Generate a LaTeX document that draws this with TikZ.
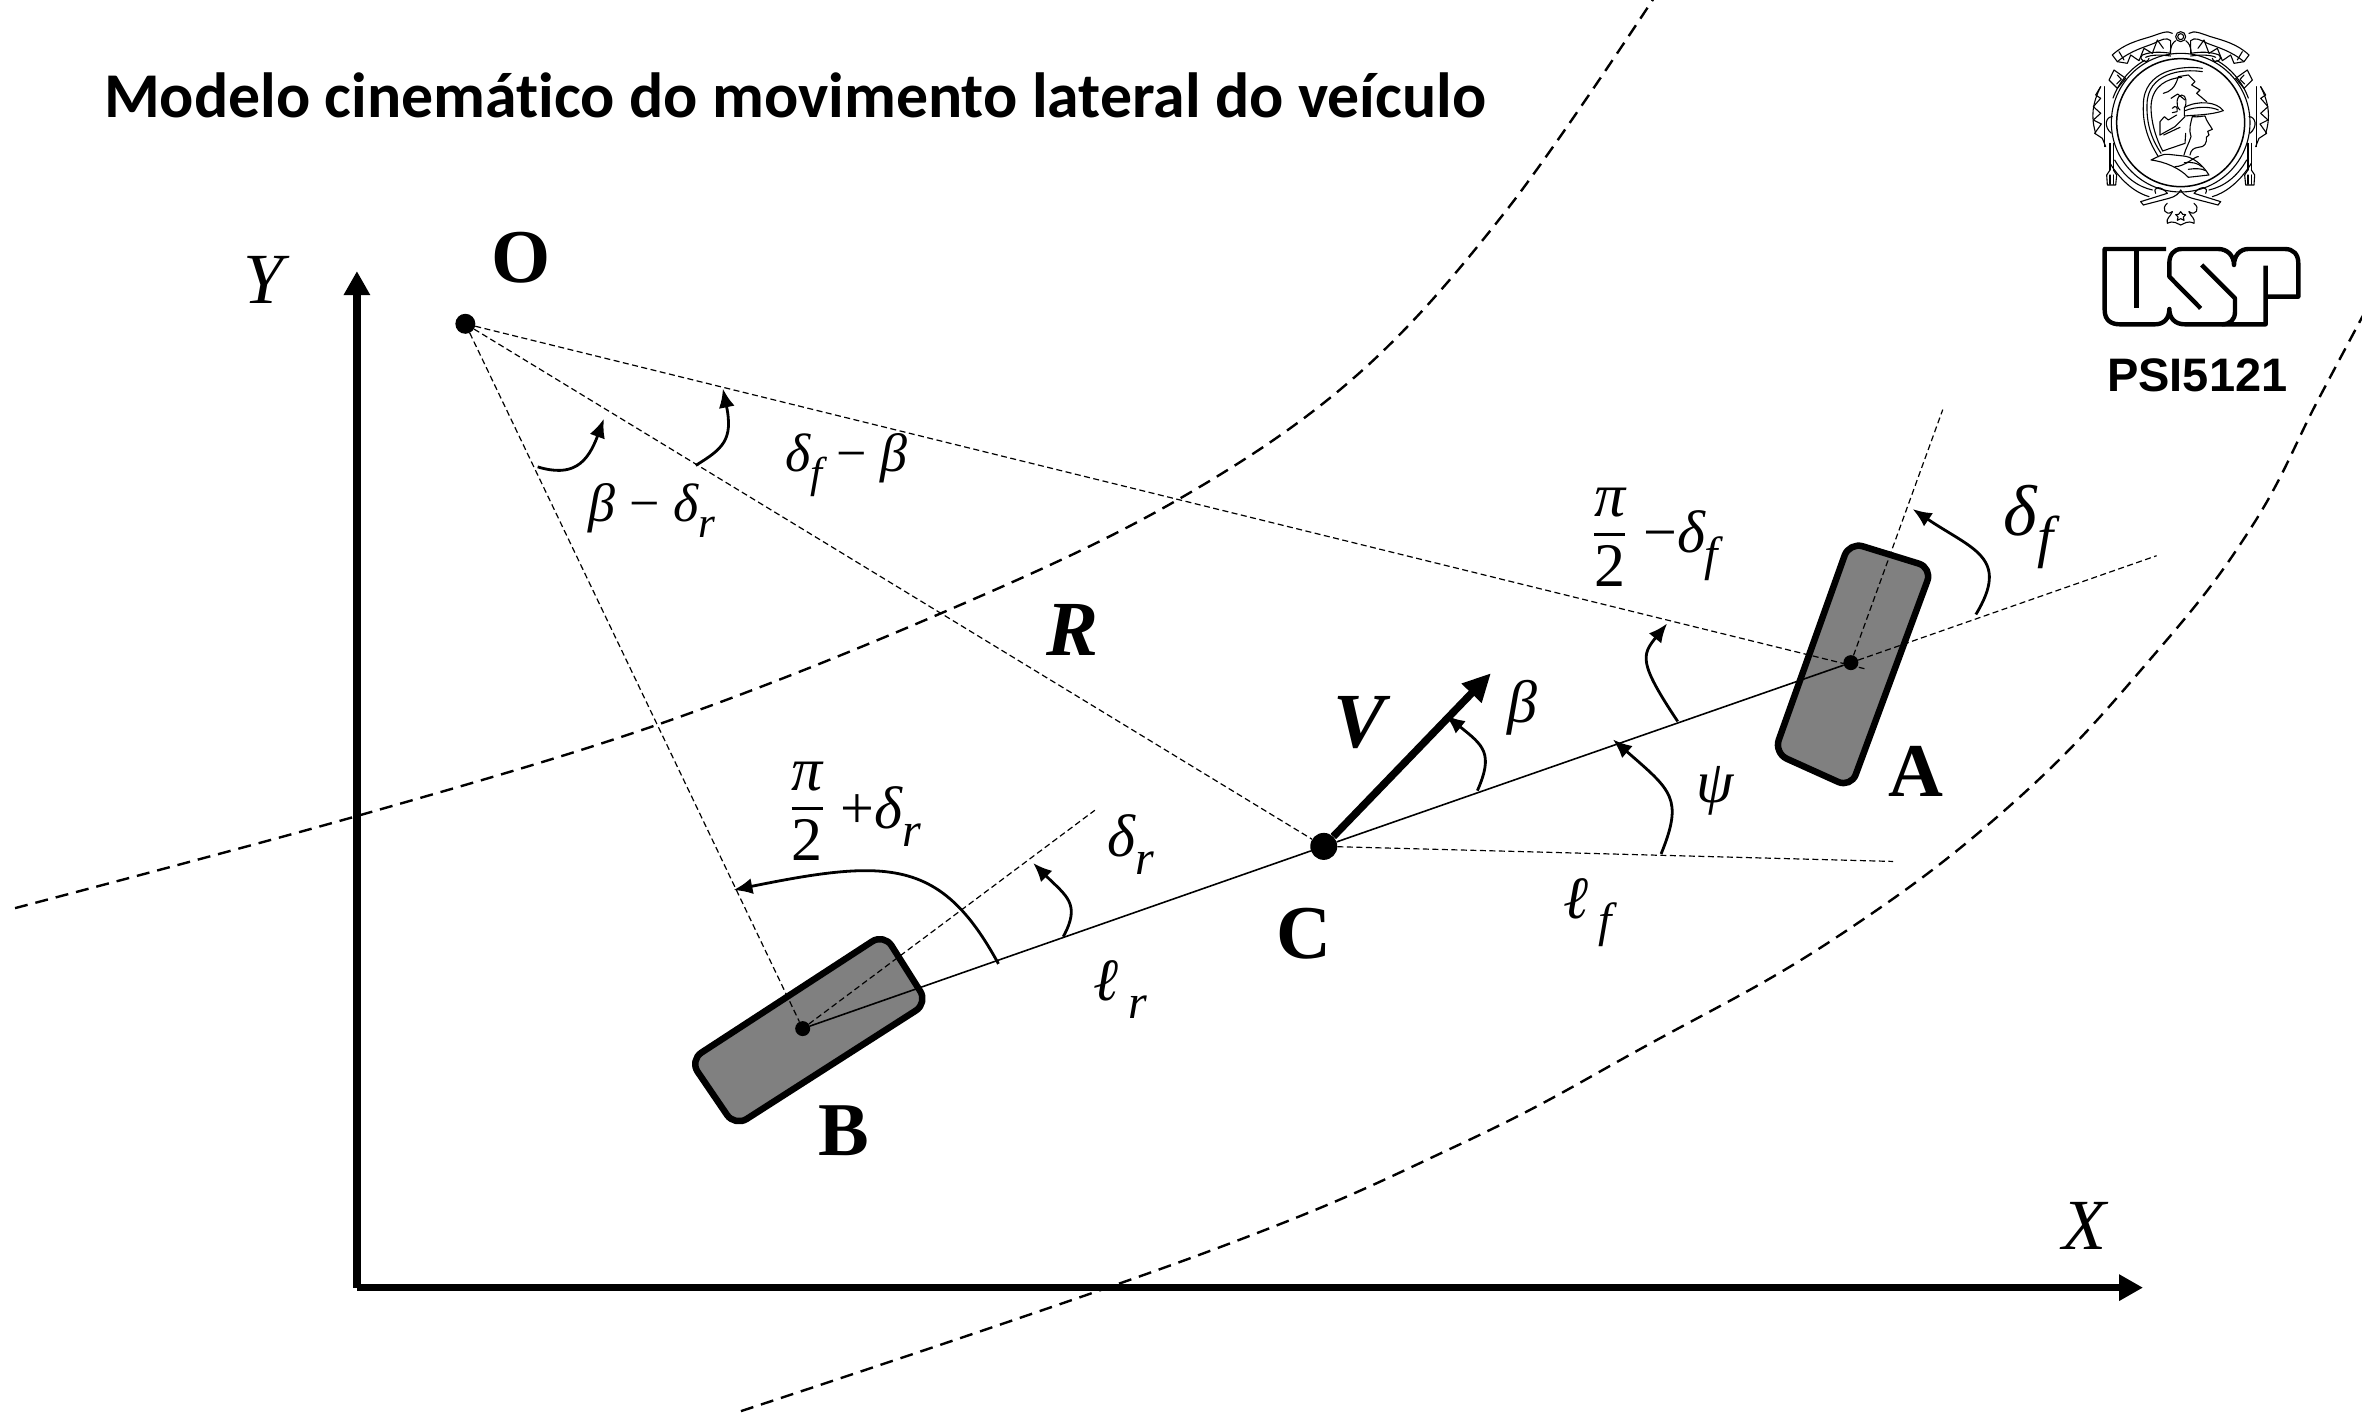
\documentclass[tikz,border=0pt]{standalone}
\usepackage{fontspec}
\setmainfont{Liberation Serif}
\newfontfamily\titlefont[Ligatures=NoCommon]{Carlito}
\newfontfamily\sansfont{Liberation Sans}
\usetikzlibrary{arrows.meta}
\newcommand\lowr[1]{\raisebox{-.3em}{\scalebox{.8}{#1}}}
\newcommand\mns{{\upshape\char"2212}}
\tikzset{
  road/.style={line width=2.4pt,dash pattern=on 13pt off 8pt},
  guide/.style={line width=1.2pt,dash pattern=on 6pt off 3.5pt},
  body/.style={line width=1.6pt},
  axisline/.style={line width=7.5pt,-{Triangle[length=24pt,width=25pt]}},
  angarrow/.style={line width=2.8pt,-{Latex[length=19pt,width=16pt]}},
  wheel/.style={line width=6.5pt,fill=black!50,rounded corners=14pt,line join=round},
  dotmark/.style={circle,fill=black,inner sep=0pt,minimum size=#1},
  point/.style={font=\fontsize{76}{80}\selectfont\bfseries},
  bolditalic/.style={font=\fontsize{78}{84}\selectfont\bfseries\itshape},
  axislabel/.style={font=\fontsize{72}{80}\selectfont\itshape},
  sym/.style={font=\fontsize{54}{60}\selectfont\itshape,inner sep=0pt},
  onesym/.style={font=\fontsize{60}{66}\selectfont\itshape,inner sep=0pt},
  bigsym/.style={font=\fontsize{72}{78}\selectfont\itshape,inner sep=0pt},
  crest/.style={line width=1.1pt,line cap=round,line join=round},
  usp/.style={line width=4.4pt,line join=round,line cap=butt},
}
\newcommand\fracnode[2]{\node[inner sep=0pt,font=\fontsize{62}{62}\selectfont] (#1) at (#2) {\arrayrulewidth=3.5pt\begin{tabular}{@{}c@{}}\itshape π\\[-2pt]\hline\noalign{\vskip 7pt}\upshape 2\end{tabular}};}
\newcommand\crestside{%
  % ribbon
  \draw[crest] (-205,105) .. controls (-170,72) and (-130,62) .. (-90,50) .. controls (-60,40) and (-40,30) .. (-25,40);
  \draw[crest] (-190,125) .. controls (-150,92) and (-110,82) .. (-80,70) .. controls (-60,60) and (-42,50) .. (-30,62) -- (-30,100);
  \draw[crest] (-205,105) -- (-190,125) -- (-160,130) -- (-150,105) -- (-125,122) -- (-110,85) -- (-85,100) -- (-70,60) -- (-52,85);
  \draw[crest] (-185,95) -- (-170,120);
  % scrolls under the ribbon
  \draw[crest] (-30,100) .. controls (-60,95) and (-90,95) .. (-115,105) .. controls (-130,120) and (-100,135) .. (-95,115);
  \draw[crest] (-30,108) .. controls (-60,104) and (-90,104) .. (-105,112);
  \draw[crest] (-200,150) -- (-165,175) -- (-190,205) -- (-215,180) -- cycle;
  \draw[crest] (-190,165) -- (-178,178) -- (-192,192);
  % wreath
  \draw[crest] (-240,200) .. controls (-265,250) and (-270,290) .. (-255,340);
  \draw[crest] (-228,200) -- (-228,380);
  \draw[crest] (-240,200) -- (-255,225) -- (-240,235) -- (-262,260) -- (-240,280);
  \draw[crest] (-240,280) -- (-262,300) -- (-238,312) -- (-258,340) -- (-235,355) -- (-225,380);
  \draw[crest] (-205,290) .. controls (-225,290) and (-232,320) .. (-208,340);
  % cord and tassel
  \draw[crest] (-212,370) -- (-212,450);
  \draw[crest] (-202,370) -- (-202,450);
  \draw[crest] (-212,450) -- (-222,465) -- (-220,495) -- (-195,495) -- (-192,465) -- (-202,450);
  \draw[crest] (-212,465) -- (-212,493);
  \draw[crest] (-202,465) -- (-202,493);
  \draw[crest] (-198,420) .. controls (-170,470) and (-130,500) .. (-85,510);
  \draw[crest] (-212,430) .. controls (-175,490) and (-130,520) .. (-95,530);
  % lower scrolls
  \draw[crest] (-120,545) -- (-40,520) .. controls (-60,495) and (-85,500) .. (-75,520);
  \draw[crest] (-112,555) -- (-35,535) .. controls (-15,530) and (-5,520) .. (0,510);
  \draw[crest] (-120,545) -- (-112,555);
  \draw[crest] (-40,550) .. controls (-60,565) and (-45,590) .. (-25,575);
  \draw[crest] (-25,575) .. controls (-30,590) and (-45,595) .. (-40,610) .. controls (-20,600) and (-10,612) .. (0,615);
}
\begin{document}
\begin{tikzpicture}[x=1.506pt,y=-1.506pt]
\useasboundingbox (0,0) rectangle (1568.4,938.9);

% road borders
\draw[road] plot[smooth,tension=.6] coordinates {(10,603) (240,541) (440,480) (630,405) (780,333) (900,250) (1000,140) (1100,-4)};
\draw[road] plot[smooth,tension=.7] coordinates {(492,937) (797,833) (969,760) (1092,695) (1220,622) (1338,532) (1431,434) (1495,350) (1539,266) (1572,204)};

% wheels
\draw[wheel] (1228,360) -- (1283,377) -- (1229,523) -- (1178,500) -- cycle;
\draw[wheel] (587,620) -- (616,666) -- (488,748) -- (458,704) -- cycle;

% points
\node[dotmark=20pt] (O) at (309,215) {};
\node[dotmark=15pt] (A) at (1229,440) {};
\node[dotmark=15pt] (B) at (533,683) {};
\node[circle,fill=black,inner sep=0pt,minimum size=27pt] (C) at (879,562) {};

\coordinate (Apast) at (1238,444);
\coordinate (Afront) at (1432,369);
\coordinate (Aup) at (1290,272);
\coordinate (Cfront) at (1257,572);
\coordinate (Bfront) at (727,538);
\coordinate (Vtip) at (990,447);
\coordinate (origin) at (237,855);
\coordinate (Ytip) at (237,180);
\coordinate (Xtip) at (1423,855);

% guide lines
\draw[guide] (O) -- (Apast);
\draw[guide] (O) -- (C);
\draw[guide] (O) -- (B);
\draw[guide] (A) -- (Afront);
\draw[guide] (A) -- (Aup);
\draw[guide] (C) -- (Cfront);
\draw[guide] (B) -- (Bfront);

% body axis
\draw[body] (B) -- (C);
\draw[body] (C) -- (A);

% velocity and axes
\draw[line width=7.5pt,-{Triangle[length=28pt,width=26pt]}] (C) -- (Vtip);
\draw[axisline] (origin) -- (Ytip);
\draw[axisline] (origin) -- (Xtip);

% angle arrows
\draw[angarrow] (357,310) .. controls (380,317) and (390,308) .. (401,278);
\draw[angarrow] (462,309) .. controls (480,298) and (487,292) .. (480,258);
\draw[angarrow] (663,640) .. controls (625,570) and (590,570) .. (487,591);
\draw[angarrow] (706,622) .. controls (718,600) and (708,595) .. (686,573);
\draw[angarrow] (981,525) .. controls (992,500) and (985,495) .. (960,475);
\draw[angarrow] (1103,567) .. controls (1118,530) and (1110,525) .. (1071,491);
\draw[angarrow] (1114,479) .. controls (1088,440) and (1090,435) .. (1107,414);
\draw[angarrow] (1312,408) .. controls (1335,370) and (1310,365) .. (1270,338);

% title
\node[anchor=base west,inner sep=0pt,font=\fontsize{63.8}{68}\selectfont\titlefont\bfseries] (title) at (69,78) {Modelo cinemático do movimento lateral do veículo};

% point labels
\node[point] (Olab) at (346,171) {O};
\node[point] (Alab) at (1272,512) {A};
\node[point] (Blab) at (560,751) {B};
\node[point] (Clab) at (866,620) {C};
\node[bolditalic] (Rlab) at (712,418) {R};
\node[bolditalic] (Vlab) at (903,480) {V};
\node[axislabel] (Ylab) at (175,186) {Y};
\node[axislabel] (Xlab) at (1384,814) {X};

% symbols
\node[sym] (s1) at (433,339) {β \mns\ δ\lowr{r}};
\node[sym] (s2) at (562,309) {δ\lowr{f} \mns\ β};
\node[onesym] (s3) at (751,561) {δ\lowr{r}};
\node[onesym] (s4) at (744,657) {ℓ\,\lowr{r}};
\node[onesym] (s5) at (1054,606) {ℓ\,\lowr{f}};
\node[onesym] (s6) at (1139,525) {ψ};
\node[onesym] (s7) at (1011,470) {β};
\node[bigsym] (s8) at (1347,350) {δ\lowr{f}};
\fracnode{f1}{536,540}
\node[onesym] (f1b) at (585,542) {{\upshape +}δ\lowr{r}};
\fracnode{f2}{1069,358}
\node[onesym] (f2b) at (1116,362) {\mns δ\lowr{f}};

% logo text
\node[anchor=base,inner sep=0pt,font=\fontsize{47}{50}\selectfont\sansfont\bfseries] (psi) at (1459,260) {PSI5121};

% USP logo
\begin{scope}[shift={(2090pt,-235pt)},x=.3333pt,y=-.3333pt]
  \draw[usp] (228,42) -- (44,42) -- (44,225) .. controls (44,255) and (62,268) .. (90,268) -- (195,268) .. controls (222,268) and (238,250) .. (238,222) .. controls (238,250) and (255,268) .. (285,268) -- (527,268) -- (527,92);
  \draw[usp] (527,185) -- (625,185) -- (625,85) .. controls (625,58) and (610,42) .. (585,42) -- (475,42) .. controls (450,42) and (432,62) .. (432,90) .. controls (432,62) and (412,42) .. (385,42) -- (275,42) .. controls (250,42) and (238,60) .. (238,85) -- (238,125) -- (332,220);
  \draw[usp] (335,90) -- (435,190) -- (435,230) .. controls (435,255) and (420,268) .. (395,268);
  \draw[usp] (140,42) -- (140,218);
\end{scope}

% crest
\begin{scope}[shift={(2085pt,-20pt)},x=.3333pt,y=-.3333pt]
  \draw[line width=1.5pt] (287,308) circle[radius=192];
  \draw[crest] (287,308) circle[radius=208];
  \draw[crest] ({287+216*cos(-60)},{308+216*sin(-60)}) arc[start angle=-60,end angle=-20,radius=216];
  \draw[crest] ({287-216*cos(-60)},{308+216*sin(-60)}) arc[start angle=240,end angle=200,radius=216];
  \draw[crest] (287,50) circle[radius=15];
  \draw[crest] (287,50) circle[radius=9];
  \draw[crest] (255,100) .. controls (258,75) and (262,70) .. (272,62);
  \draw[crest] (319,100) .. controls (316,75) and (312,70) .. (302,62);
  \draw[crest] (287,575) -- (293,583) -- (302,584) -- (295,591) -- (297,601) -- (287,596) -- (277,601) -- (279,591) -- (272,584) -- (281,583) -- cycle;
  % helmet
  \draw[crest] (352,145) .. controls (290,135) and (175,150) .. (175,255) .. controls (172,320) and (195,370) .. (220,410);
  \draw[crest] (352,155) .. controls (290,145) and (186,160) .. (186,255) .. controls (184,320) and (205,365) .. (228,400);
  \draw[crest] (290,172) .. controls (250,175) and (200,195) .. (198,260) .. controls (198,310) and (215,360) .. (233,393);
  \draw[crest] (233,393) -- (300,370) -- (302,340);
  \draw[crest] (225,345) -- (225,305) -- (238,290) -- (250,300) -- (275,285);
  \draw[crest] (225,345) -- (270,320) -- (300,290);
  \draw[crest] (236,345) -- (285,322);
  % crest of helmet
  \draw[crest] (235,220) .. controls (255,215) and (270,205) .. (280,170) -- (310,165) -- (330,185) -- (320,195) -- (345,210) -- (335,220) -- (365,245);
  \draw[crest] (258,235) -- (278,222) -- (300,240);
  \draw[crest] (285,270) .. controls (270,260) and (275,225) .. (290,225) .. controls (305,225) and (305,250) .. (300,262);
  \draw[crest] (262,265) .. controls (270,255) and (280,260) .. (276,275) -- (262,278);
  % visor
  \draw[crest] (298,262) .. controls (340,240) and (395,245) .. (415,272) .. controls (380,285) and (330,285) .. (298,288) -- cycle;
  \draw[crest] (300,272) .. controls (335,258) and (380,260) .. (400,270);
  % face
  \draw[crest] (322,290) .. controls (340,292) and (352,288) .. (360,288) .. controls (365,305) and (375,315) .. (382,328) -- (368,334) -- (372,345) -- (364,352) .. controls (366,368) and (360,382) .. (340,382) .. controls (325,384) and (318,390) .. (315,405);
  \draw[crest] (322,290) .. controls (318,305) and (310,330) .. (318,350) .. controls (312,370) and (302,385) .. (297,405);
  % bust
  \draw[crest] (198,420) .. controls (215,412) and (235,400) .. (250,403) -- (295,408) .. controls (320,410) and (350,430) .. (372,465) -- (310,472) .. controls (285,445) and (240,425) .. (198,420);
  \draw[crest] (298,428) .. controls (320,425) and (340,430) .. (350,440);
  \draw[crest] (310,448) .. controls (330,445) and (350,445) .. (362,452);
  \draw[crest] (270,440) .. controls (300,440) and (330,408) .. (340,410);
  % sides
  \begin{scope}[shift={(287*.3333pt,0pt)}]
    \crestside
  \end{scope}
  \begin{scope}[shift={(287*.3333pt,0pt)},x=-.3333pt]
    \crestside
  \end{scope}
\end{scope}
\end{tikzpicture}
\end{document}
